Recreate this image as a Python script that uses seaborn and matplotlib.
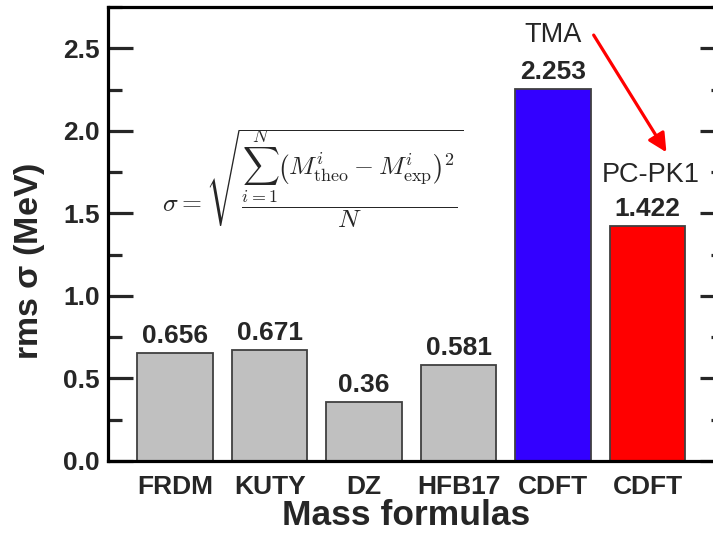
import matplotlib
matplotlib.use("Agg")
import matplotlib.pyplot as plt
from matplotlib.ticker import MultipleLocator, FormatStrFormatter
import seaborn as sns
import pandas as pd

# Mass-model rms deviations
models = ["FRDM", "KUTY", "DZ", "HFB17", "TMA", "PC-PK1"]
tick_labels = ["FRDM", "KUTY", "DZ", "HFB17", "CDFT", "CDFT"]
rms_values = [0.656, 0.671, 0.36, 0.581, 2.253, 1.422]
bar_colors = ["#c0c0c0", "#c0c0c0", "#c0c0c0", "#c0c0c0", "#3300ff", "#ff0000"]

sns.set_theme(style="ticks")
plt.rcParams["font.family"] = ["Liberation Sans", "DejaVu Sans"]
plt.rcParams["mathtext.fontset"] = "cm"

df = pd.DataFrame({"model": models, "rms": rms_values})

fig = plt.figure(figsize=(7.13, 5.39), dpi=100)
ax = fig.add_axes([108 / 713, 1 - 461 / 539, (725 - 108) / 713, (461 - 7) / 539])

sns.barplot(data=df, x="model", y="rms", hue="model", palette=bar_colors,
            order=models, hue_order=models, legend=False, width=0.8,
            edgecolor="#404040", linewidth=1.3, saturation=1, ax=ax)

for cont in ax.containers:
    vals = cont.datavalues
    ax.bar_label(cont, labels=[f"{v:g}" for v in vals], padding=3.5,
                 fontsize=19, fontweight="bold")

ax.set_xlim(-0.71, 5.82)
ax.set_ylim(0, 2.75)
ax.yaxis.set_major_locator(MultipleLocator(0.5))
ax.yaxis.set_minor_locator(MultipleLocator(0.25))
ax.yaxis.set_major_formatter(FormatStrFormatter("%.1f"))
ax.set_xticks(range(len(models)))
ax.set_xticklabels(tick_labels)

for sp in ax.spines.values():
    sp.set_linewidth(2.3)
    sp.set_visible(True)
    sp.set_color("black")

ax.tick_params(axis="y", which="major", direction="in", length=18, width=2.3,
               left=True, right=True, labelsize=19, pad=6)
ax.tick_params(axis="y", which="minor", direction="in", length=10, width=2.3,
               left=True, right=True)
ax.tick_params(axis="x", which="both", length=0, labelsize=19, pad=10)
for lab in ax.get_xticklabels() + ax.get_yticklabels():
    lab.set_fontweight("bold")

ax.set_xlabel("Mass formulas", fontsize=25.5, fontweight="bold")
ax.xaxis.set_label_coords(0.483, -0.083)
ax.set_ylabel(r"rms $\mathregular{\sigma}$ (MeV)", fontsize=24.5,
              fontweight="bold")
ax.yaxis.set_label_coords(-0.099, 0.44)

# Functional names and the arrow between them
ax.text(4.0, 2.58, "TMA", fontsize=19.5, ha="center", va="center")
ax.text(5.03, 1.73, "PC-PK1", fontsize=19.5, ha="center", va="center")
ax.annotate("", xy=(5.20, 1.87), xytext=(4.43, 2.58),
            arrowprops=dict(arrowstyle="-|>", color="red", lw=2.3,
                            mutation_scale=28, shrinkA=0, shrinkB=0))

# Definition of the rms deviation
ax.text(1.455, 1.70,
        r"$\sigma = \sqrt{\dfrac{\sum_{i=1}^{N}\left(M_{\mathrm{theo}}^{i}-M_{\mathrm{exp}}^{i}\right)^{2}}{N}}$",
        fontsize=18.5, ha="center", va="center")

fig.savefig("out.png", dpi=100)
